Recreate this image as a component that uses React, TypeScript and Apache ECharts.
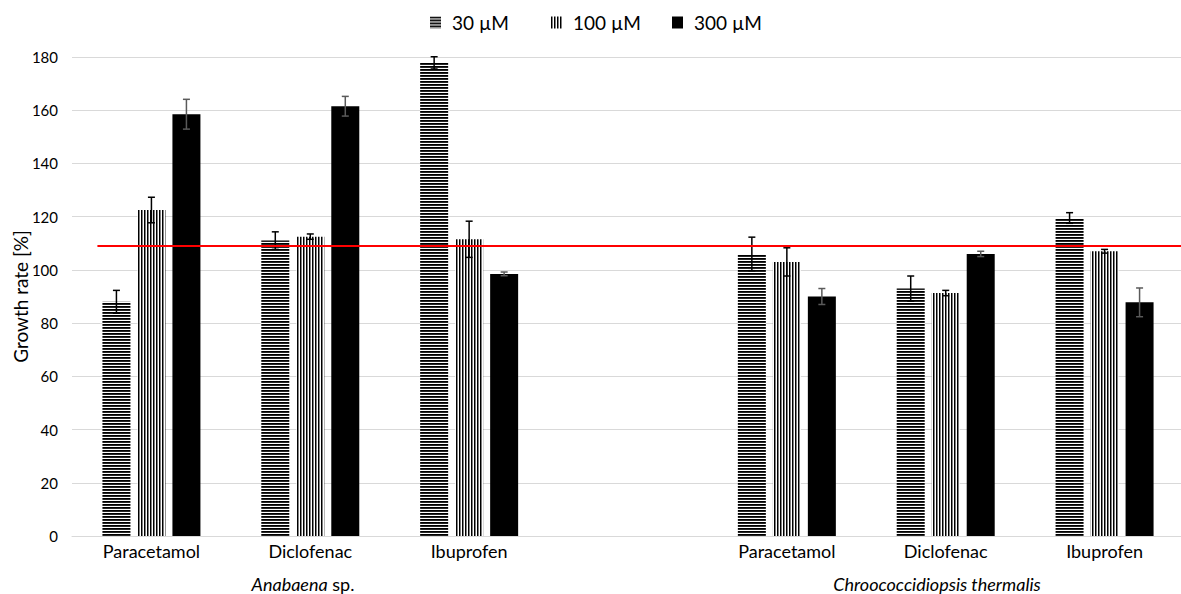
import React, { useEffect, useRef } from "react";
import * as echarts from "echarts";

const categories = ["Paracetamol", "Diclofenac", "Ibuprofen", "", "Paracetamol", "Diclofenac", "Ibuprofen"];
const seriesNames = ["30 µM", "100 µM", "300 µM"];
const conc30 = [88, 111, 177.8, null, 106, 93, 119.5];
const conc100 = [122.5, 112.5, 111.5, null, 103, 91.3, 107];
const conc300 = [158.5, 161.5, 98.5, null, 90, 106, 87.8];
const err30 = [4.3, 3.3, 2.3, null, 6.3, 4.7, 2];
const err100 = [4.8, 1, 6.8, null, 5.3, 1, 0.7];
const err300 = [5.6, 3.7, 0.7, null, 3, 1, 5.4];
const referenceLevel = 109;
const yTicks = { min: 0, max: 180, interval: 20 };
const groupLabels = ["{i|Anabaena} sp.", "{i|Chroococcidiopsis thermalis}"];

const FONT = "Lato";

function makePattern(kind: "h" | "v") {
  const c = document.createElement("canvas");
  c.width = 3;
  c.height = 3;
  const ctx = c.getContext("2d")!;
  ctx.fillStyle = "#ffffff";
  ctx.fillRect(0, 0, 3, 3);
  if (kind === "h") {
    ctx.fillStyle = "#000000";
    ctx.fillRect(0, 0, 3, 1);
    ctx.fillStyle = "#262626";
    ctx.fillRect(0, 1, 3, 1);
  } else {
    ctx.fillStyle = "#000000";
    ctx.fillRect(0, 0, 1, 3);
    ctx.fillStyle = "#808080";
    ctx.fillRect(1, 0, 1, 3);
  }
  return { image: c, repeat: "repeat" } as any;
}

export default function App() {
  const ref = useRef<HTMLDivElement>(null);
  useEffect(() => {
    if (!ref.current) return;
    const chart = echarts.init(ref.current, undefined, { renderer: "svg" });
    const barWidth = 28;
    const step = 35;
    const values = [conc30, conc100, conc300];
    const errs = [err30, err100, err300];
    const fills = [makePattern("h"), makePattern("v"), "#000000"];
    const errColors = ["#000000", "#000000", "#5a5a5a"];

    const barSeries = values.map((vals, si) => ({
      name: seriesNames[si],
      type: "bar",
      barWidth,
      barGap: "25%",
      barCategoryGap: "38%",
      xAxisIndex: 0,
      yAxisIndex: 0,
      itemStyle: { color: fills[si] },
      data: vals.map((v) => (v == null ? "-" : v)),
      z: 2,
    }));

    const errSeries = values.map((vals, si) => ({
      type: "custom",
      name: "err" + si,
      xAxisIndex: 0,
      yAxisIndex: 0,
      z: 5,
      silent: true,
      data: vals
        .map((v, i) => (v == null ? null : [i, v, errs[si][i]]))
        .filter((d) => d != null),
      renderItem: (params: any, api: any) => {
        const i = api.value(0);
        const v = api.value(1);
        const e = api.value(2);
        const top = api.coord([i, v + e]);
        const bot = api.coord([i, v - e]);
        const x = top[0] + (si - 1) * step;
        const cap = 3.5;
        const style = { stroke: errColors[si], lineWidth: 1.5 };
        return {
          type: "group",
          children: [
            { type: "line", shape: { x1: x, y1: top[1], x2: x, y2: bot[1] }, style },
            { type: "line", shape: { x1: x - cap, y1: top[1], x2: x + cap, y2: top[1] }, style },
            { type: "line", shape: { x1: x - cap, y1: bot[1], x2: x + cap, y2: bot[1] }, style },
          ],
        };
      },
      encode: { x: 0, y: 1 },
    }));

    const legendLefts = [425, 546, 667];
    const legends = seriesNames.map((n, i) => ({
      data: [{ name: n, icon: "rect" }],
      left: legendLefts[i],
      top: 8,
      itemWidth: 11,
      itemHeight: 12,
      textStyle: { fontFamily: FONT, fontSize: 19, color: "#000", padding: [0, 0, 0, 6] },
    }));

    const richItalic = { i: { fontStyle: "italic", fontSize: 18, fontFamily: FONT, fill: "#000" } };

    const option: any = {
      animation: false,
      textStyle: { fontFamily: FONT },
      legend: legends,
      grid: { left: 72, top: 57, width: 1112, height: 479, outerBoundsMode: "none", containLabel: false },
      xAxis: [
        {
          type: "category",
          data: categories,
          axisTick: { show: false },
          axisLine: { lineStyle: { color: "#d9d9d9", width: 1 } },
          axisLabel: { interval: 0, color: "#000", fontSize: 18, fontFamily: FONT, margin: 6 },
        },
        { type: "value", min: 0, max: 7, show: false, gridIndex: 0 },
      ],
      yAxis: [
        {
          type: "value",
          min: yTicks.min,
          max: yTicks.max,
          interval: yTicks.interval,
          name: "Growth rate [%]",
          nameLocation: "middle",
          nameRotate: 90,
          nameGap: 42,
          nameMoveOverlap: false,
          nameTextStyle: { fontFamily: FONT, fontSize: 19, color: "#000" },
          axisLine: { show: false },
          axisTick: { show: false },
          axisLabel: { color: "#000", fontSize: 15, fontFamily: FONT, margin: 14 },
          splitLine: { lineStyle: { color: "#d9d9d9", width: 1 } },
        },
      ],
      series: [
        ...barSeries,
        ...errSeries,
        {
          type: "line",
          name: "ref",
          xAxisIndex: 1,
          yAxisIndex: 0,
          data: [],
          z: 6,
          markLine: {
            silent: true,
            symbol: "none",
            label: { show: false },
            lineStyle: { color: "#ff0000", width: 2, type: "solid" },
            data: [[{ coord: [0.16, referenceLevel] }, { coord: [7, referenceLevel] }]],
            z: 6,
          },
        },
      ],
      graphic: [
        {
          type: "text",
          x: 303,
          y: 584,
          style: {
            text: groupLabels[0],
            fill: "#000",
            font: `18px ${FONT}`,
            align: "center",
            verticalAlign: "middle",
            rich: richItalic,
          },
        },
        {
          type: "text",
          x: 937,
          y: 584,
          style: {
            text: groupLabels[1],
            fill: "#000",
            font: `18px ${FONT}`,
            align: "center",
            verticalAlign: "middle",
            rich: richItalic,
          },
        },
      ],
    };
    chart.setOption(option);
    return () => chart.dispose();
  }, []);
  return (
    <div
      ref={ref}
      style={{ position: "absolute", left: 0, top: 0, width: 1181, height: 594, background: "#fff" }}
    />
  );
}
